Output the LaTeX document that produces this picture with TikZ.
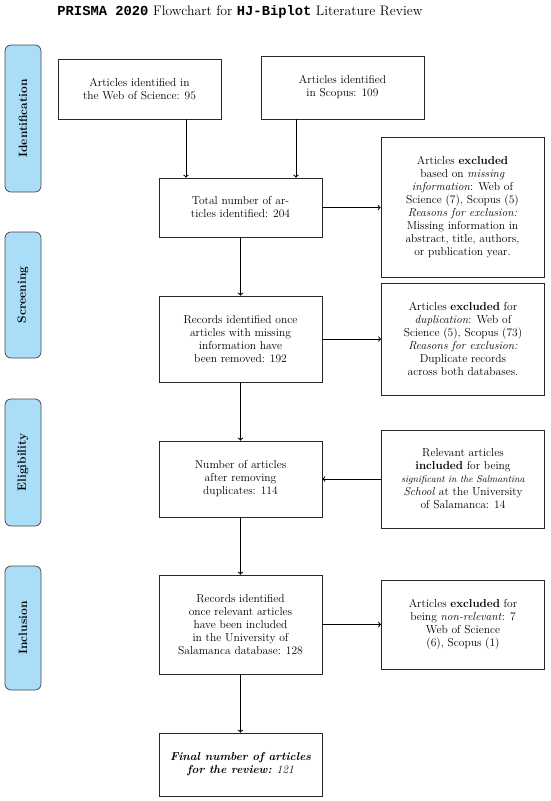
\documentclass[tikz,border=0pt]{standalone}
\usepackage{fontspec}
\setmonofont{Liberation Mono}
\usetikzlibrary{calc}
\definecolor{stagefill}{RGB}{170,222,248}
\definecolor{stagedraw}{RGB}{70,70,70}
\definecolor{boxdraw}{RGB}{40,40,40}
\begin{document}
\begin{tikzpicture}[x=1pt,y=-1pt,
  box/.style={draw=boxdraw, line width=0.75pt, fill=white, align=center, inner sep=2pt,
    minimum width=163pt, font=\fontsize{11.5}{13}\selectfont},
  stage/.style={draw=stagedraw, line width=0.75pt, fill=stagefill, rounded corners=6pt,
    minimum width=36pt, inner sep=0pt},
  stagetext/.style={rotate=90, font=\fontsize{12}{14}\selectfont\bfseries},
  arr/.style={->, line width=1pt, black}]
\useasboundingbox (0,0) rectangle (550,801);

\node[font=\fontsize{13.8}{16}\selectfont] (title) at (240,12)
  {\texttt{\textbf{PRISMA 2020}} Flowchart for \texttt{\textbf{HJ-Biplot}} Literature Review};

% stages
\node[stage, minimum height=147pt] (s1) at (23,118.5) {};
\node[stagetext] (s1t) at (s1.center) {Identification};
\node[stage, minimum height=126pt] (s2) at (23,295) {};
\node[stagetext] (s2t) at (s2.center) {Screening};
\node[stage, minimum height=127pt] (s3) at (23,462.5) {};
\node[stagetext] (s3t) at (s3.center) {Eligibility};
\node[stage, minimum height=124pt] (s4) at (23,628) {};
\node[stagetext] (s4t) at (s4.center) {Inclusion};

% boxes
\node[box, minimum height=60pt] (wos) at (139.5,89)
  {Articles identified in\\the Web of Science: 95};
\node[box, minimum height=63pt] (sco) at (342.5,87.5)
  {Articles identified\\in Scopus: 109};
\node[box, minimum height=59pt] (tot) at (240.5,207.5)
  {Total number of ar-\\ticles identified: 204};
\node[box, minimum height=140pt] (exa) at (462.5,207)
  {Articles \textbf{excluded}\\based on \textit{missing}\\\textit{information}: Web of\\Science (7), Scopus (5)\\\textit{Reasons for exclusion:}\\Missing information in\\abstract, title, authors,\\or publication year.};
\node[box, minimum height=86pt] (reca) at (240.5,339)
  {Records identified once\\articles with missing\\information have\\been removed: 192};
\node[box, minimum height=112pt] (exb) at (463,339)
  {Articles \textbf{excluded} for\\\textit{duplication}: Web of\\Science (5), Scopus (73)\\\textit{Reasons for exclusion:}\\Duplicate records\\across both databases.};
\node[box, minimum height=76pt] (num) at (240.5,479)
  {Number of articles\\after removing\\duplicates: 114};
\node[box, minimum height=98pt] (rel) at (463,479)
  {Relevant articles\\\textbf{included} for being\\{\fontsize{9.8}{13}\selectfont\textit{significant in the Salmantina}}\\\textit{School} at the University\\of Salamanca: 14};
\node[box, minimum height=99pt] (recb) at (240.5,624.5)
  {Records identified\\once relevant articles\\have been included\\in the University of\\Salamanca database: 128};
\node[box, minimum height=89pt] (nonr) at (463,624.5)
  {Articles \textbf{excluded} for\\being \textit{non-relevant}: 7\\Web of Science\\(6), Scopus (1)};
\node[box, minimum height=63pt] (fin) at (240.5,764.5)
  {\textbf{\textit{Final number of articles}}\\\textbf{\textit{for the review:}} \textit{121}};

% connectors
\coordinate (ta) at ([xshift=-54.5pt]tot.north);
\coordinate (tb) at ([xshift=55.5pt]tot.north);
\draw[arr] (wos.south -| ta) -- (ta);
\draw[arr] (sco.south -| tb) -- (tb);
\draw[arr] (tot.east) -- (tot.east -| exa.west);
\draw[arr] (tot.south) -- (reca.north);
\draw[arr] (reca.east) -- (reca.east -| exb.west);
\draw[arr] (reca.south) -- (num.north);
\draw[arr] (rel.west) -- (rel.west -| num.east);
\draw[arr] (num.south) -- (recb.north);
\draw[arr] (recb.east) -- (recb.east -| nonr.west);
\draw[arr] (recb.south) -- (fin.north);
\end{tikzpicture}
\end{document}
